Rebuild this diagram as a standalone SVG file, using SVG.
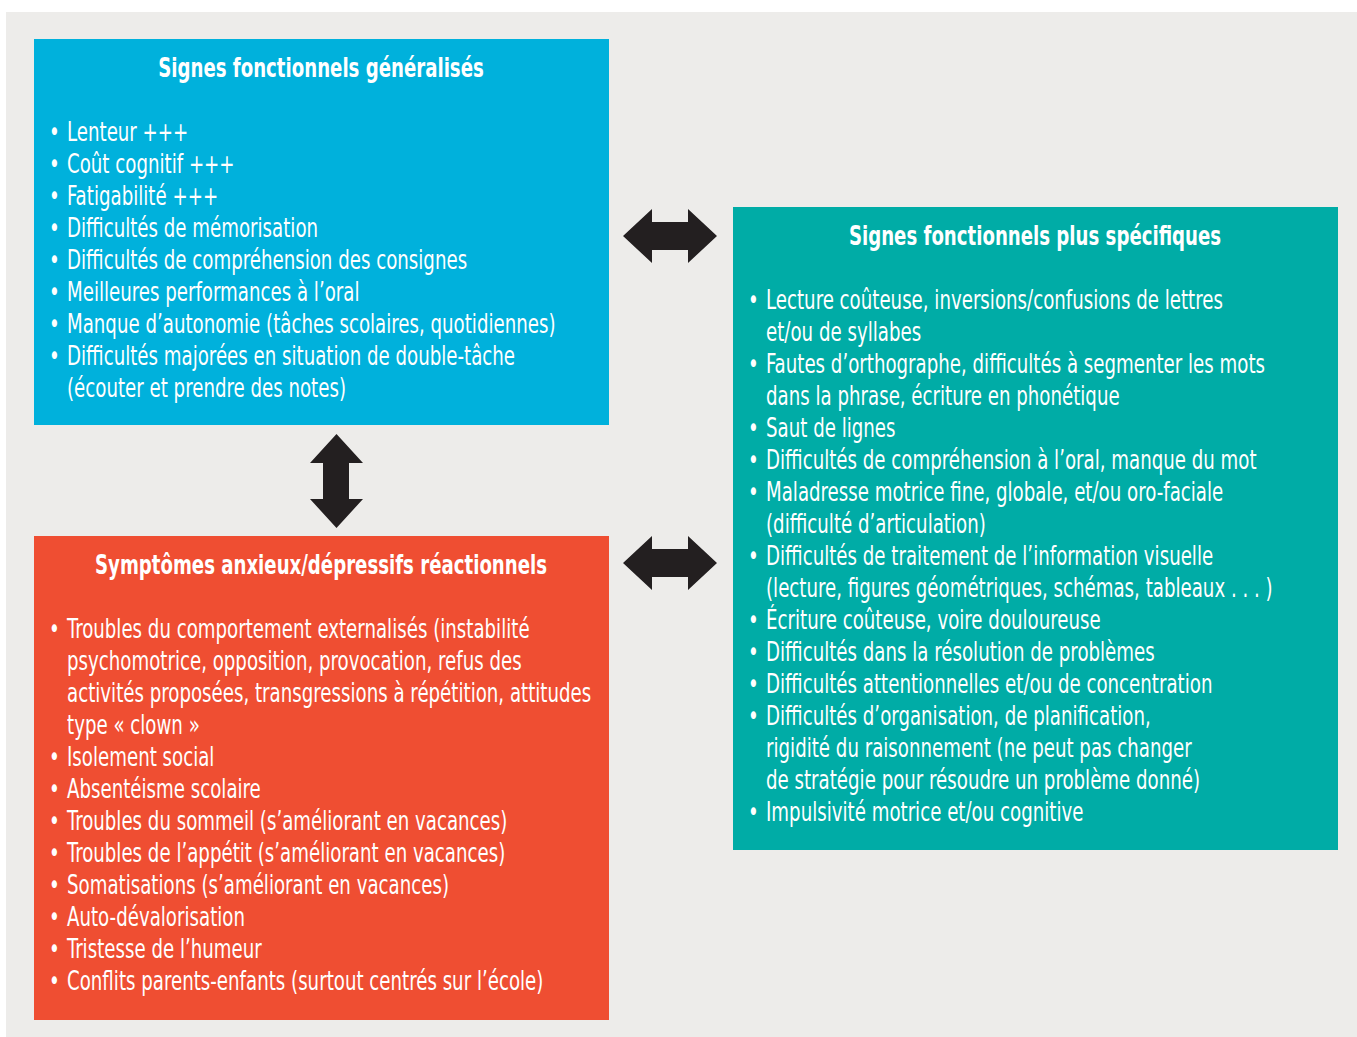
<svg xmlns="http://www.w3.org/2000/svg" width="1357" height="1037" viewBox="0 0 1357 1037">
<style>
.t{font-family:"DejaVu Sans Condensed","DejaVu Sans","Liberation Sans",sans-serif;fill:#fff;font-size:26px}
.h{font-weight:bold;text-anchor:middle;font-size:27px}
.ar{fill:#231f20}
</style>
<rect width="1357" height="1037" fill="#fff"/>
<rect x="6" y="12" width="1351" height="1025" fill="#edecea"/>
<g id="node-generalises">
<rect x="34" y="39" width="575" height="386" fill="#00b1dc"/>
<g transform="translate(321 0) scale(0.747 1)"><text class="t h" x="0" y="77">Signes fonctionnels généralisés</text></g>
<g class="t" transform="translate(49 0) scale(0.778 1)">
<text y="141">•</text><text y="173">•</text><text y="205">•</text><text y="237">•</text><text y="269">•</text><text y="301">•</text><text y="333">•</text><text y="365">•</text>
</g>
<g class="t" transform="translate(67 0) scale(0.778 1)">
<text y="141">Lenteur +++</text>
<text y="173">Coût cognitif +++</text>
<text y="205">Fatigabilité +++</text>
<text y="237">Difficultés de mémorisation</text>
<text y="269">Difficultés de compréhension des consignes</text>
<text y="301">Meilleures performances à l’oral</text>
<text y="333">Manque d’autonomie (tâches scolaires, quotidiennes)</text>
<text y="365">Difficultés majorées en situation de double-tâche</text>
<text y="397">(écouter et prendre des notes)</text>
</g>
</g>
<g id="node-specifiques">
<rect x="733" y="207" width="605" height="643" fill="#00aca6"/>
<g transform="translate(1035 0) scale(0.747 1)"><text class="t h" x="0" y="245">Signes fonctionnels plus spécifiques</text></g>
<g class="t" transform="translate(748 0) scale(0.778 1)">
<text y="309">•</text><text y="373">•</text><text y="437">•</text><text y="469">•</text><text y="501">•</text><text y="565">•</text><text y="629">•</text><text y="661">•</text><text y="693">•</text><text y="725">•</text><text y="821">•</text>
</g>
<g class="t" transform="translate(766 0) scale(0.778 1)">
<text y="309">Lecture coûteuse, inversions/confusions de lettres</text>
<text y="341">et/ou de syllabes</text>
<text y="373">Fautes d’orthographe, difficultés à segmenter les mots</text>
<text y="405">dans la phrase, écriture en phonétique</text>
<text y="437">Saut de lignes</text>
<text y="469">Difficultés de compréhension à l’oral, manque du mot</text>
<text y="501">Maladresse motrice fine, globale, et/ou oro-faciale</text>
<text y="533">(difficulté d’articulation)</text>
<text y="565">Difficultés de traitement de l’information visuelle</text>
<text y="597">(lecture, figures géométriques, schémas, tableaux . . . )</text>
<text y="629">Écriture coûteuse, voire douloureuse</text>
<text y="661">Difficultés dans la résolution de problèmes</text>
<text y="693">Difficultés attentionnelles et/ou de concentration</text>
<text y="725">Difficultés d’organisation, de planification,</text>
<text y="757">rigidité du raisonnement (ne peut pas changer</text>
<text y="789">de stratégie pour résoudre un problème donné)</text>
<text y="821">Impulsivité motrice et/ou cognitive</text>
</g>
</g>
<g id="node-symptomes">
<rect x="34" y="536" width="575" height="484" fill="#ef4e32"/>
<g transform="translate(321 0) scale(0.747 1)"><text class="t h" x="0" y="574">Symptômes anxieux/dépressifs réactionnels</text></g>
<g class="t" transform="translate(49 0) scale(0.778 1)">
<text y="638">•</text><text y="766">•</text><text y="798">•</text><text y="830">•</text><text y="862">•</text><text y="894">•</text><text y="926">•</text><text y="958">•</text><text y="990">•</text>
</g>
<g class="t" transform="translate(67 0) scale(0.778 1)">
<text y="638">Troubles du comportement externalisés (instabilité</text>
<text y="670">psychomotrice, opposition, provocation, refus des</text>
<text y="702">activités proposées, transgressions à répétition, attitudes</text>
<text y="734">type « clown »</text>
<text y="766">Isolement social</text>
<text y="798">Absentéisme scolaire</text>
<text y="830">Troubles du sommeil (s’améliorant en vacances)</text>
<text y="862">Troubles de l’appétit (s’améliorant en vacances)</text>
<text y="894">Somatisations (s’améliorant en vacances)</text>
<text y="926">Auto-dévalorisation</text>
<text y="958">Tristesse de l’humeur</text>
<text y="990">Conflits parents-enfants (surtout centrés sur l’école)</text>
</g>
</g>
<g id="connectors">
<polygon class="ar" points="623,236 652,209 652,222 688,222 688,209 717,236 688,263 688,250 652,250 652,263"/>
<polygon class="ar" points="623,563 652,536 652,549 688,549 688,536 717,563 688,590 688,577 652,577 652,590"/>
<polygon class="ar" points="336.5,434 363,463 349,463 349,499 363,499 336.5,528 310,499 323,499 323,463 310,463"/>
</g>
</svg>
